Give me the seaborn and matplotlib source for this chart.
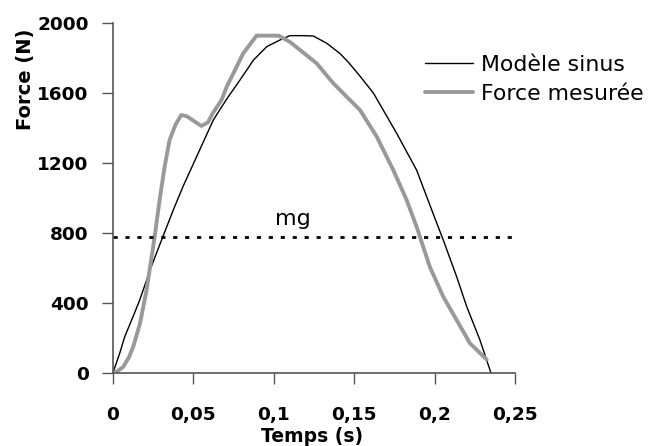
import matplotlib
matplotlib.use("Agg")
import matplotlib.pyplot as plt
import seaborn as sns
import pandas as pd

# Modèle sinus
t_sinus = [0.0, 0.0042, 0.0073, 0.0120, 0.0166, 0.0238, 0.0310, 0.0375, 0.0435, 0.0539,
           0.0624, 0.0663, 0.0717, 0.0790, 0.0874, 0.0956, 0.1038, 0.1100, 0.1180, 0.1246,
           0.1330, 0.1410, 0.1463, 0.1540, 0.1620, 0.1764, 0.1888, 0.1990, 0.2054, 0.2137,
           0.2200, 0.2282, 0.2350]
f_sinus = [0, 112, 206, 310, 415, 606, 777, 930, 1063, 1273,
           1444, 1501, 1577, 1673, 1787, 1863, 1901, 1926, 1926, 1924,
           1882, 1825, 1775, 1690, 1597, 1368, 1158, 911, 758, 549,
           377, 187, 0]

# Force mesurée
t_mesure = [0.0, 0.0030, 0.0064, 0.0100, 0.0126, 0.0168, 0.0209, 0.0259, 0.0290, 0.0321,
            0.0352, 0.0390, 0.0425, 0.0460, 0.0500, 0.0549, 0.0590, 0.0620, 0.0675, 0.0707,
            0.0810, 0.0893, 0.0960, 0.1030, 0.1100, 0.1163, 0.1266, 0.1370, 0.1453, 0.1536,
            0.1640, 0.1743, 0.1826, 0.1888, 0.1970, 0.2054, 0.2137, 0.2220, 0.2324]
f_mesure = [0, 10, 34, 90, 149, 282, 473, 777, 987, 1177,
            1330, 1420, 1473, 1465, 1440, 1410, 1430, 1482, 1558, 1634,
            1825, 1926, 1926, 1926, 1890, 1844, 1768, 1654, 1577, 1501,
            1349, 1158, 987, 834, 606, 434, 301, 168, 75]

mg_value = 774
x_ticks = [0, 0.05, 0.1, 0.15, 0.2, 0.25]
x_tick_labels = ["0", "0,05", "0,1", "0,15", "0,2", "0,25"]
y_ticks = [0, 400, 800, 1200, 1600, 2000]
y_tick_labels = ["0", "400", "800", "1200", "1600", "2000"]

sns.set_style("white")
plt.rcParams["font.family"] = ["DejaVu Sans"]
plt.rcParams["text.color"] = "black"
plt.rcParams["axes.labelcolor"] = "black"
plt.rcParams["xtick.color"] = "black"
plt.rcParams["ytick.color"] = "black"

fig = plt.figure(figsize=(6.6, 4.46), dpi=100)
ax = fig.add_axes([113 / 660, 1 - 372.7 / 446, (515 - 113) / 660, (372.7 - 22.7) / 446])

df_s = pd.DataFrame({"t": t_sinus, "f": f_sinus})
df_m = pd.DataFrame({"t": t_mesure, "f": f_mesure})

sns.lineplot(data=df_s, x="t", y="f", ax=ax, color="black", lw=1.0, sort=False,
             label="Modèle sinus")
sns.lineplot(data=df_m, x="t", y="f", ax=ax, color="#999999", lw=2.8, sort=False,
             label="Force mesurée")
ax.axhline(mg_value, color="black", lw=2.0, dashes=(1.5, 2.8))
ax.text(0.112, 844, "mg", fontsize=16, ha="center", va="baseline", color="black")

ax.set_xlim(0, 0.25)
ax.set_ylim(0, 2000)
ax.set_xticks(x_ticks)
ax.set_xticklabels(x_tick_labels)
ax.set_yticks(y_ticks)
ax.set_yticklabels(y_tick_labels)
for lab in ax.get_xticklabels() + ax.get_yticklabels():
    lab.set_fontweight("bold")
    lab.set_fontsize(13.3)
    lab.set_color("black")
ax.tick_params(axis="x", direction="out", length=8, width=1, color="#555555",
               labelcolor="black", pad=16, bottom=True)
ax.tick_params(axis="y", direction="out", length=8, width=1, color="#555555",
               labelcolor="black", pad=9.5, left=True)

for s in ["top", "right"]:
    ax.spines[s].set_visible(False)
for s in ["left", "bottom"]:
    ax.spines[s].set_color("#555555")
    ax.spines[s].set_linewidth(1.2)

ax.set_xlabel("Temps (s)", fontsize=13.5, fontweight="bold", color="black")
ax.xaxis.set_label_coords(0.495, -0.155)
ax.set_ylabel("Force (N)", fontsize=14, fontweight="bold", color="black")
ax.yaxis.set_label_coords(-0.194, 0.839)

leg = ax.legend(loc="upper left", bbox_to_anchor=(425 / 660, 1 - 55 / 446),
                bbox_transform=fig.transFigure, frameon=False, fontsize=15.8,
                handlelength=2.18, handletextpad=0.36, labelspacing=0.4,
                borderpad=0, borderaxespad=0)
for txt in leg.get_texts():
    txt.set_color("black")

fig.savefig("out.png", dpi=100)
